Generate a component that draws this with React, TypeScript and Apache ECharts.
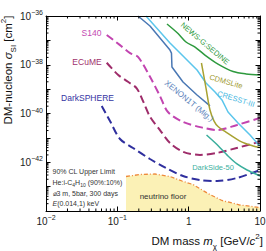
import React, { useEffect, useRef } from 'react';
import * as echarts from 'echarts';

const FONT = '"Liberation Sans", Arial, Helvetica, sans-serif';
const X_MIN = 0.01;
const X_MAX = 10;
const Y_MIN = 1e-44;
const Y_MAX = 1e-36;

// tick decoration lists
const minorMultipliers = [2, 3, 4, 5, 6, 7, 8, 9];
const xDecadeExps = [-2, -1, 0];
const yDecadeExps = [-44, -43, -42, -41, -40, -39, -38, -37];

// curves: DM mass [GeV/c^2] and cross section [cm^2]
const s140Mass = [0.071, 0.109, 0.151, 0.195, 0.287, 0.396, 0.513, 0.833, 1.59, 2.5, 4.76, 10];
const s140Sigma = [1.66e-37, 6.4e-38, 3.0e-38, 2.1e-38, 3.2e-39, 5.2e-40, 1.15e-40, 4.5e-41, 2.6e-41, 2.1e-41, 3.4e-41, 6.6e-41];

const ecumeMass = [0.071, 0.103, 0.141, 0.187, 0.231, 0.287, 0.396, 0.547, 0.833, 1.44, 2.47, 4.72, 10];
const ecumeSigma = [1.21e-38, 3.8e-39, 2.0e-39, 1.08e-39, 3.05e-40, 7.4e-41, 2.1e-41, 6.2e-42, 2.7e-42, 2.0e-42, 2.4e-42, 3.85e-42, 7.0e-42];

const darkSphereMass = [0.0604, 0.0789, 0.109, 0.166, 0.287, 0.481, 0.833, 1.44, 2.5, 4.76, 10];
const darkSphereSigma = [2.03e-40, 4.9e-41, 9.0e-42, 3.85e-42, 1.36e-42, 5.8e-43, 2.73e-43, 1.87e-43, 1.7e-43, 2.26e-43, 4.8e-43];

const nuFloorMass = [0.1323, 0.208, 0.337, 0.547, 0.807, 1.15, 1.87, 2.93, 5.24, 10];
const nuFloorSigma = [2.6e-43, 3.14e-43, 3.3e-43, 2.6e-43, 1.7e-43, 1.22e-43, 5.2e-44, 2.7e-44, 1.76e-44, 1.39e-44];

const xenonMass = [0.195, 0.287, 0.547, 0.574, 0.583, 0.833, 1.31, 1.99];
const xenonSigma = [1e-36, 3.9e-37, 4.0e-38, 3.0e-38, 8.1e-39, 1.96e-39, 5.75e-40, 2.05e-40];

const cresstMass = [0.252, 0.547, 0.861, 1.31, 1.75, 2.34, 2.93, 3.56, 4.92, 7.25, 9.08, 10];
const cresstSigma = [1e-36, 7.8e-38, 2.08e-38, 6.1e-39, 1.78e-39, 7.6e-40, 3.6e-40, 1.15e-40, 4.1e-41, 1.31e-41, 6.2e-42, 4.65e-42];

const newsgMass = [0.497, 0.71, 0.918, 1.23, 1.69, 2.58, 4.19, 6.37, 10];
const newsgSigma = [4.7e-37, 1.91e-37, 8.6e-38, 5.3e-38, 2.5e-38, 1.07e-38, 5.3e-39, 4.2e-39, 3.8e-39];

const cdmsMass = [1.51, 1.75, 1.99, 2.27, 2.58, 3.23, 5.24, 7.98, 10];
const cdmsSigma = [1.18e-38, 1.11e-39, 1.39e-40, 4.9e-41, 2.93e-41, 1.83e-41, 7.4e-42, 4.65e-42, 4.0e-42];

const darkSideMass = [1.78, 2.45, 3.56, 4.76, 6.58, 10];
const darkSideSigma = [1.31e-41, 5.6e-42, 1.8e-42, 8.5e-43, 4.8e-43, 2.73e-43];

const zip = (a: number[], b: number[]) => a.map((v, i) => [v, b[i]]);

const tickRich = {
  b: { fontSize: 10, lineHeight: 14, verticalAlign: 'middle', fontFamily: FONT, color: '#222' },
  s: { fontSize: 7, lineHeight: 7, verticalAlign: 'top', fontFamily: FONT, color: '#222' },
};

const expOf = (v: number) => Math.round(Math.log10(v));

function xLabel(v: number) {
  const e = expOf(v);
  if (e === 0) return '{b|1}';
  if (e === 1) return '{b|10}';
  return `{b|10}{s|\u2212${-e}}`;
}
function yLabel(v: number) {
  const e = expOf(v);
  if (e % 2 !== 0) return '';
  return `{b|10}{s|\u2212${-e}}`;
}

function label(text: string, x: number, y: number, color: string, rotation = 0, size = 8, align = 'center', rich?: any) {
  return {
    type: 'text',
    x,
    y,
    rotation,
    silent: true,
    z: 100,
    style: {
      text,
      fill: color,
      fontSize: size,
      fontFamily: FONT,
      align,
      verticalAlign: 'middle',
      textAlign: align,
      textVerticalAlign: 'middle',
      rich,
    },
  };
}

export default function App() {
  const ref = useRef<HTMLDivElement>(null);
  useEffect(() => {
    if (!ref.current) return;
    const chart = echarts.init(ref.current, undefined, { renderer: 'svg' });

    const tickData: number[][] = [];
    xDecadeExps.forEach((e) => minorMultipliers.forEach((m) => tickData.push([m * Math.pow(10, e), Y_MIN, 0])));
    yDecadeExps.forEach((e) => minorMultipliers.forEach((m) => tickData.push([X_MIN, m * Math.pow(10, e), 1])));

    const axisBase = {
      type: 'log',
      logBase: 10,
      z: 5,
      axisLine: { show: true, onZero: false, lineStyle: { color: '#000', width: 1 } },
      axisTick: { show: true, inside: true, length: 4.5, lineStyle: { color: '#000', width: 1 } },
      splitLine: { show: false },
      minorTick: { show: false },
    };

    const dashed = (name: string, m: number[], s: number[], color: string) => ({
      type: 'line',
      name,
      data: zip(m, s),
      showSymbol: false,
      smooth: 0.3,
      silent: true,
      z: 3,
      lineStyle: { color, width: 2, type: [8, 4] },
    });
    const solid = (name: string, m: number[], s: number[], color: string, smooth = 0) => ({
      type: 'line',
      name,
      data: zip(m, s),
      showSymbol: false,
      smooth,
      silent: true,
      z: 3,
      lineStyle: { color, width: 1.5 },
    });

    const sRich = {
      n: { fontSize: 7, fontFamily: FONT, color: '#333', lineHeight: 10, verticalAlign: 'middle' },
      sb: { fontSize: 5, fontFamily: FONT, color: '#333', lineHeight: 7, verticalAlign: 'bottom' },
      i: { fontSize: 7, fontFamily: FONT, color: '#333', fontStyle: 'italic', lineHeight: 10, verticalAlign: 'middle' },
    };
    const nameRich = {
      n: { fontSize: 11.5, fontFamily: FONT, color: '#111', lineHeight: 18, verticalAlign: 'middle' },
      i: { fontSize: 11.5, fontFamily: FONT, color: '#111', fontStyle: 'italic', lineHeight: 18, verticalAlign: 'middle' },
      sup: { fontSize: 8, fontFamily: FONT, color: '#111', lineHeight: 9, verticalAlign: 'top' },
      sub: { fontSize: 8, fontFamily: FONT, color: '#111', lineHeight: 11, verticalAlign: 'bottom' },
    };

    chart.setOption({
      animation: false,
      grid: { left: 46, right: 6, top: 16, bottom: 40, containLabel: false, outerBoundsMode: 'none' },
      xAxis: [
        {
          ...axisBase,
          min: X_MIN,
          max: X_MAX,
          interval: 1,
          position: 'bottom',
          axisLabel: { show: true, margin: 3, formatter: xLabel, rich: tickRich, color: '#222' },
        },
        {
          ...axisBase,
          min: X_MIN,
          max: X_MAX,
          interval: 1,
          position: 'top',
          axisLabel: { show: false },
        },
      ],
      yAxis: [
        {
          ...axisBase,
          min: Y_MIN,
          max: Y_MAX,
          interval: 1,
          position: 'left',
          axisLabel: { show: true, margin: 3, formatter: yLabel, rich: tickRich, color: '#222' },
        },
        {
          ...axisBase,
          min: Y_MIN,
          max: Y_MAX,
          interval: 1,
          position: 'right',
          axisLabel: { show: false },
        },
      ],
      series: [
        {
          type: 'custom',
          name: 'neutrino floor area',
          silent: true,
          z: 1,
          data: zip(nuFloorMass, nuFloorSigma),
          encode: { x: 0, y: 1 },
          renderItem: (params: any, api: any) => {
            if (params.dataIndex !== 0) return null;
            const pts = nuFloorMass.map((m, i) => api.coord([m, nuFloorSigma[i]]));
            const last = api.coord([nuFloorMass[nuFloorMass.length - 1], Y_MIN]);
            const first = api.coord([nuFloorMass[0], Y_MIN]);
            return {
              type: 'polygon',
              shape: { points: [...pts, last, first] },
              style: { fill: '#fbf1b6', stroke: 'none' },
            };
          },
        },
        {
          type: 'line',
          name: 'neutrino floor',
          data: zip(nuFloorMass, nuFloorSigma),
          showSymbol: false,
          smooth: false,
          silent: true,
          z: 2,
          lineStyle: { color: '#ee8a3c', width: 1.3, type: [4, 2, 1, 2] },
        },
        dashed('S140', s140Mass, s140Sigma, '#c244b0'),
        dashed('ECuME', ecumeMass, ecumeSigma, '#9e2c6a'),
        dashed('DarkSPHERE', darkSphereMass, darkSphereSigma, '#2f2f9e'),
        solid('XENON1T (Mig.)', xenonMass, xenonSigma, '#4a78b4'),
        solid('CRESST-III', cresstMass, cresstSigma, '#5cc6ec'),
        solid('NEWS-G:SEDINE', newsgMass, newsgSigma, '#2e9a3e', 0.3),
        solid('CDMSLite', cdmsMass, cdmsSigma, '#a8a232', 0.3),
        solid('DarkSide-50', darkSideMass, darkSideSigma, '#3aae9c', 0.2),
        {
          type: 'custom',
          name: 'minor ticks',
          silent: true,
          z: 10,
          data: tickData,
          encode: { x: 0, y: 1 },
          renderItem: (params: any, api: any) => {
            const kind = api.value(2);
            const len = 2.5;
            const st = { stroke: '#000', lineWidth: 1 };
            if (kind === 0) {
              const v = api.value(0);
              const b = api.coord([v, Y_MIN]);
              const t = api.coord([v, Y_MAX]);
              return {
                type: 'group',
                children: [
                  { type: 'line', shape: { x1: b[0], y1: b[1], x2: b[0], y2: b[1] - len }, style: st },
                  { type: 'line', shape: { x1: t[0], y1: t[1], x2: t[0], y2: t[1] + len }, style: st },
                ],
              };
            }
            const v = api.value(1);
            const l = api.coord([X_MIN, v]);
            const r = api.coord([X_MAX, v]);
            return {
              type: 'group',
              children: [
                { type: 'line', shape: { x1: l[0], y1: l[1], x2: l[0] + len, y2: l[1] }, style: st },
                { type: 'line', shape: { x1: r[0], y1: r[1], x2: r[0] - len, y2: r[1] }, style: st },
              ],
            };
          },
        },
      ],
      graphic: [
        label('S140', 91.5, 33, '#c44ab2', 0, 8.5),
        label('ECuME', 87, 62, '#a0306c', 0, 8.5),
        label('DarkSPHERE', 87.5, 97.5, '#3434a2', 0, 8.5),
        label('NEWS-G:SEDINE', 205, 43.5, '#2e9a3e', -0.7, 7.5),
        label('XENON1T (Mig.)', 189, 101, '#5a82ba', -0.68, 8),
        label('CDMSLite', 226, 81.5, '#a09a30', -0.28, 7.5),
        label('CRESST-III', 236, 99, '#48b8e2', -0.3, 7.5),
        label('DarkSide-50', 213, 167, '#40b0a0', 0, 7.5),
        label('neutrino floor', 163, 196.5, '#333', 0, 8),
        label('90% CL Upper Limit', 52.5, 171.7, '#333', 0, 7, 'left', sRich),
        label('{n|He:i-C}{sb|4}{n|H}{sb|10}{n| (90%:10%)}', 52.5, 182.3, '#333', 0, 7, 'left', sRich),
        label('\u23003 m, 5bar, 300 days', 52.5, 193, '#333', 0, 7, 'left', sRich),
        label('{i|E}{n|(0.014,1) keV}', 52.5, 203.7, '#333', 0, 7, 'left', sRich),
        label('{n|DM mass }{i|m}{sub|\u03c7}{n| [GeV/}{i|c}{sup|2}{n|]}', 263, 241, '#111', 0, 11.5, 'right', nameRich),
        label('{n|DM-nucleon }{i|\u03c3}{sub|SI}{n| [cm}{sup|2}{n|]}', 8, 70, '#111', Math.PI / 2, 11, 'center', nameRich),
      ],
    } as any);
    return () => chart.dispose();
  }, []);
  return <div ref={ref} style={{ width: 266, height: 251, position: 'absolute', left: 0, top: 0 }} />;
}
